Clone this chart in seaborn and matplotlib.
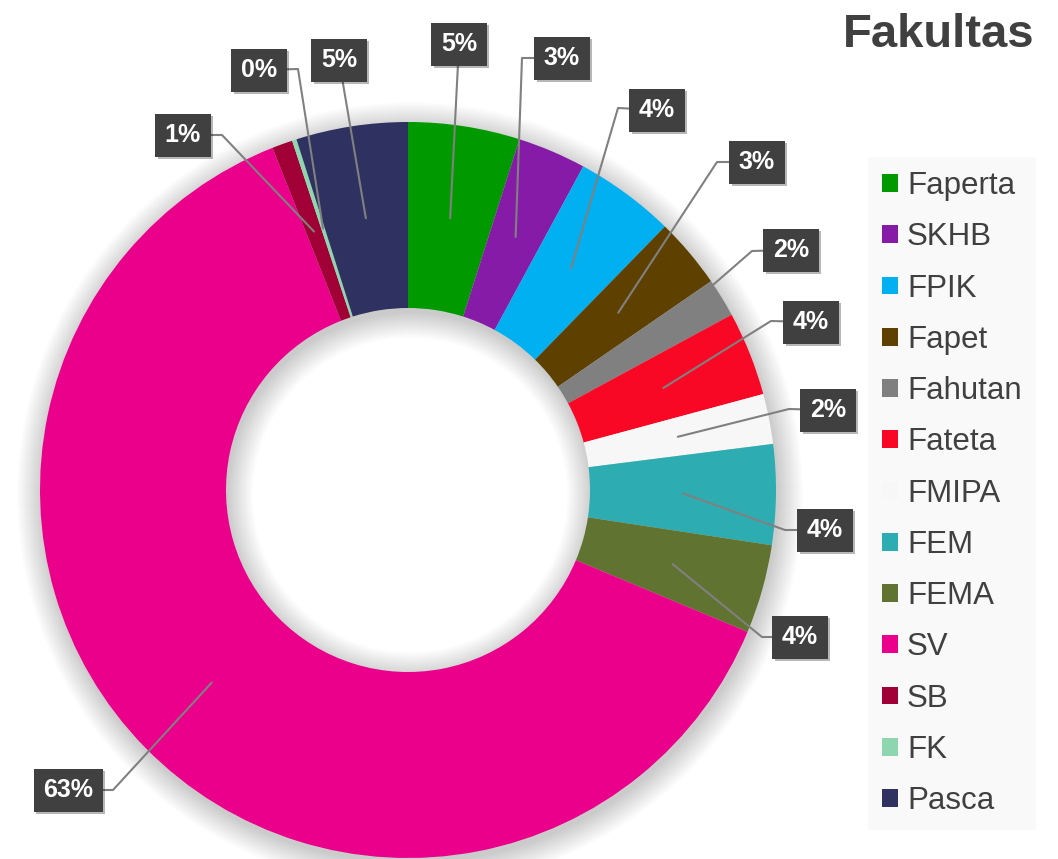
import matplotlib
matplotlib.use("Agg")
import matplotlib.pyplot as plt
import matplotlib.patches as mpatches
import matplotlib.patheffects as pe
import numpy as np
import seaborn as sns

fakultas = ["Faperta", "SKHB", "FPIK", "Fapet", "Fahutan", "Fateta", "FMIPA",
            "FEM", "FEMA", "SV", "SB", "FK", "Pasca"]
persen = [4.9, 3.0, 4.4, 3.1, 1.7, 3.7, 2.2, 4.4, 3.9, 62.7, 0.9, 0.2, 4.9]
warna = ["#009900", "#861ba8", "#00b0f0", "#5e4100", "#808080", "#f90826", "#f7f7f7",
         "#2dadb1", "#617331", "#eb008b", "#a00035", "#8ed6b0", "#2f3160"]

# posisi kotak label dan titik siku garis penunjuk (piksel dari kiri-atas)
posisi_label = [(459, 44), (562, 58), (657, 110), (757, 162), (791, 250), (811, 322),
                (828, 410), (825, 530), (800, 637), (68, 790), (183, 135), (259, 70), (339, 60)]
siku = [None, (522, 58), (618, 108), (717, 162), (752, 251), (771, 321), (789, 409),
        (785, 530), (762, 637), (113, 790), (222, 135), (298, 69), None]

W, H = 1058, 859
cx, cy = 408, H - 490
R_luar, R_dalam = 368, 182

sns.set_theme(style="white")
plt.rcParams['font.family'] = ['Liberation Sans', 'DejaVu Sans']

fig = plt.figure(figsize=(W / 100, H / 100), dpi=100)
ax = fig.add_axes([0, 0, 1, 1])

# bayangan lembut di bawah donat
for k in range(26):
    ax.add_patch(mpatches.Annulus((cx + 2, cy - 5), R_luar + k, R_luar - R_dalam + 2 * k,
                                  color='black', alpha=0.009, lw=0, zorder=0))

ax.pie(persen, colors=warna, startangle=90, counterclock=False, radius=R_luar,
       center=(cx, cy), wedgeprops=dict(width=R_luar - R_dalam, linewidth=0), frame=True)
ax.set_xlim(0, W)
ax.set_ylim(0, H)
ax.axis('off')

# label persentase
total = sum(persen)
kumulatif = np.cumsum([0] + persen[:-1])
r_tengah = (R_luar + R_dalam) / 2
for i, p in enumerate(persen):
    sudut = np.deg2rad(90 - 360 * (kumulatif[i] + p / 2) / total)
    x0 = cx + r_tengah * np.cos(sudut)
    y0 = cy + r_tengah * np.sin(sudut)
    bx, by = posisi_label[i]
    xs, ys = [x0], [y0]
    if siku[i]:
        xs.append(siku[i][0])
        ys.append(H - siku[i][1])
    xs.append(bx)
    ys.append(H - by)
    ax.plot(xs, ys, color='#808080', lw=1.5, zorder=3)
    t = ax.text(bx, H - by, f"{p / total * 100:.0f}%", ha='center', va='center',
                color='white', fontsize=18, fontweight='bold', zorder=4,
                bbox=dict(boxstyle='square,pad=0.38', fc='#404040', ec='none'))
    t.get_bbox_patch().set_path_effects([pe.SimplePatchShadow(offset=(2, -2), alpha=0.3), pe.Normal()])

handles = [mpatches.Patch(facecolor=c, edgecolor='none', label=n) for n, c in zip(fakultas, warna)]
leg = fig.legend(handles=handles, loc='upper left', bbox_to_anchor=(868 / W, 1 - 157 / H),
                 frameon=True, fontsize=22.5, handlelength=0.5, handleheight=0.5,
                 handletextpad=0.3, labelspacing=0.68, borderpad=0.45, borderaxespad=0,
                 fancybox=False)
leg.get_frame().set_facecolor('#f8f8f8')
leg.get_frame().set_edgecolor('none')
for t in leg.get_texts():
    t.set_color('#404040')

fig.text(1035 / W, 1 - 47 / H, "Fakultas", ha='right', va='baseline',
         fontsize=34, fontweight='bold', color='#404040')

fig.savefig('out.png', dpi=100)
